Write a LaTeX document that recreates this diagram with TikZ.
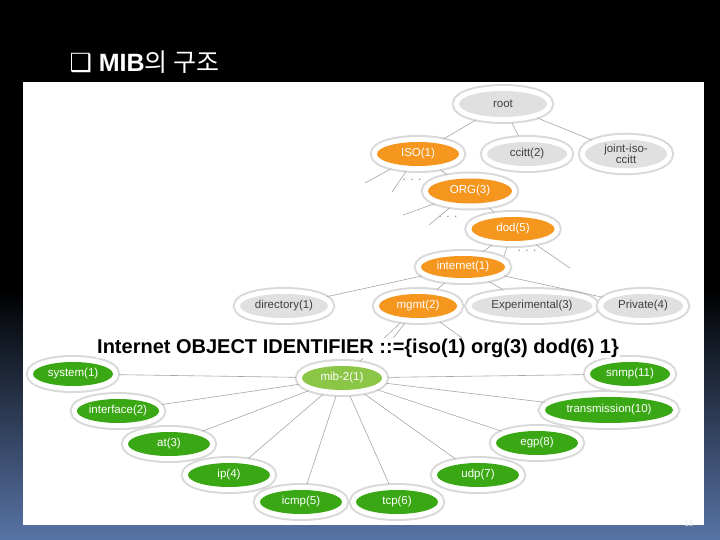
\documentclass[tikz,border=0pt]{standalone}
\usepackage{fontspec}
\setmainfont{Liberation Sans}
\newfontfamily\krfont{Noto Sans CJK KR}
\newfontfamily\symfont{DejaVu Sans}
\usetikzlibrary{shapes.geometric}
\definecolor{mibOrange}{RGB}{245,150,30}
\definecolor{mibGreen}{RGB}{58,168,20}
\definecolor{mibLight}{RGB}{140,198,70}
\definecolor{mibGray}{RGB}{224,224,224}
\definecolor{slideBlue}{RGB}{88,116,166}
\begin{document}
\begin{tikzpicture}[x=1pt, y=-1pt,
	oid/.style = {ellipse, inner sep=0pt, minimum height=24pt, outer sep=6pt,
		font=\fontsize{11.5}{12}\selectfont,
		preaction={draw=black!15, line width=14pt}, preaction={draw=white, line width=10pt}},
	orangeoid/.style = {oid, fill=mibOrange, text=white},
	grayoid/.style = {oid, fill=mibGray, text=black!75},
	greenoid/.style = {oid, fill=mibGreen, text=white, minimum width=82pt}]
				\tikzstyle{link}=[draw=black!35, line width=0.6pt]
				\tikzstyle{dots}=[text=black!50, font=\fontsize{12}{12}\selectfont, inner sep=0pt]
				\useasboundingbox (0,0) rectangle (720,540);
				\fill[black] (0,0) rectangle (720,540);
				\shade[top color=black, bottom color=slideBlue] (0,290) rectangle (720,540);
				\fill[white] (23,82) rectangle (704,525);
				\node (title) at (66,72) [anchor=base west, text=white, font=\fontsize{25}{30}\selectfont] {{\symfont ❑} \textbf{MIB}{\krfont 의 구조}};
				\node (pageno) at (689,524) [text=white!80!slideBlue, font=\fontsize{8}{9}\selectfont] {15};
				\node (root) at (503,104) [grayoid, minimum width=88pt, minimum height=26pt] {root};
				\node (iso) at (418,154) [orangeoid, minimum width=82pt] {ISO(1)};
				\node (ccitt) at (527,154) [grayoid, minimum width=80pt] {ccitt(2)};
				\node (joint) at (626,154) [grayoid, minimum width=82pt, minimum height=27pt, align=center, font=\fontsize{11.5}{9.5}\selectfont] {joint-iso-\\ccitt};
				\node (org) at (470,191) [orangeoid, minimum width=84pt, minimum height=25pt] {ORG(3)};
				\node (dod) at (513,229) [orangeoid, minimum width=83pt] {dod(5)};
				\node (internet) at (463,267) [orangeoid, minimum width=84pt, minimum height=22pt] {internet(1)};
				\node (directory) at (284,306) [grayoid, minimum width=88pt] {directory(1)};
				\node (mgmt) at (418,306) [orangeoid, minimum width=78pt] {mgmt(2)};
				\node (experimental) at (532,306) [grayoid, minimum width=121pt] {Experimental(3)};
				\node (private) at (643,306) [grayoid, minimum width=80pt] {Private(4)};
				\node (mib) at (342,378) [oid, fill=mibLight, text=white, minimum width=80pt] {mib-2(1)};
				\node (system) at (73,374) [greenoid, minimum width=80pt] {system(1)};
				\node (interface) at (118,411) [greenoid] {interface(2)};
				\node (at) at (169,444) [greenoid] {at(3)};
				\node (ip) at (229,475) [greenoid] {ip(4)};
				\node (icmp) at (301,502) [greenoid] {icmp(5)};
				\node (tcp) at (397,502) [greenoid] {tcp(6)};
				\node (udp) at (478,475) [greenoid] {udp(7)};
				\node (egp) at (537,443) [greenoid] {egp(8)};
				\node (transmission) at (609,410) [greenoid, minimum width=128pt, minimum height=26pt] {transmission(10)};
				\node (snmp) at (630,374) [greenoid, minimum width=80pt] {snmp(11)};
				\node (isodots) at (412,180) [dots] {. . .};
				\node (orgdots) at (448,217) [dots] {. . .};
				\node (doddots) at (527,251) [dots] {. . .};
				\coordinate (isoA) at (365,183);
				\coordinate (isoB) at (392,192);
				\coordinate (orgA) at (403,215);
				\coordinate (orgB) at (429,225);
				\coordinate (dodA) at (504,256);
				\coordinate (dodB) at (570,268);
				\coordinate (mgmtA) at (388,345);
				\coordinate (mgmtB) at (462,338);
				\draw[link] (root) -- (iso);
				\draw[link] (root) -- (ccitt);
				\draw[link] (root) -- (joint);
				\draw[link] (iso) -- (isoA);
				\draw[link] (iso) -- (isoB);
				\draw[link] (iso) -- (org);
				\draw[link] (org) -- (orgA);
				\draw[link] (org) -- (orgB);
				\draw[link] (org) -- (dod);
				\draw[link] (dod) -- (dodA);
				\draw[link] (dod) -- (dodB);
				\draw[link] (dod) -- (internet);
				\draw[link] (internet) -- (directory);
				\draw[link] (internet) -- (mgmt);
				\draw[link] (internet) -- (experimental);
				\draw[link] (internet) -- (private);
				\draw[link] (mgmt) -- (mgmtA);
				\draw[link] (mgmt) -- (mgmtB);
				\draw[link] (mgmt) -- (mib);
				\draw[link] (mib) -- (system);
				\draw[link] (mib) -- (interface);
				\draw[link] (mib) -- (at);
				\draw[link] (mib) -- (ip);
				\draw[link] (mib) -- (icmp);
				\draw[link] (mib) -- (tcp);
				\draw[link] (mib) -- (udp);
				\draw[link] (mib) -- (egp);
				\draw[link] (mib) -- (transmission);
				\draw[link] (mib) -- (snmp);
				\node (oidtext) at (96,353) [anchor=base west, fill=white, inner sep=1pt, font=\bfseries\fontsize{20}{22}\selectfont] {Internet OBJECT IDENTIFIER ::=\{iso(1) org(3) dod(6) 1\}};
\end{tikzpicture}
\end{document}
